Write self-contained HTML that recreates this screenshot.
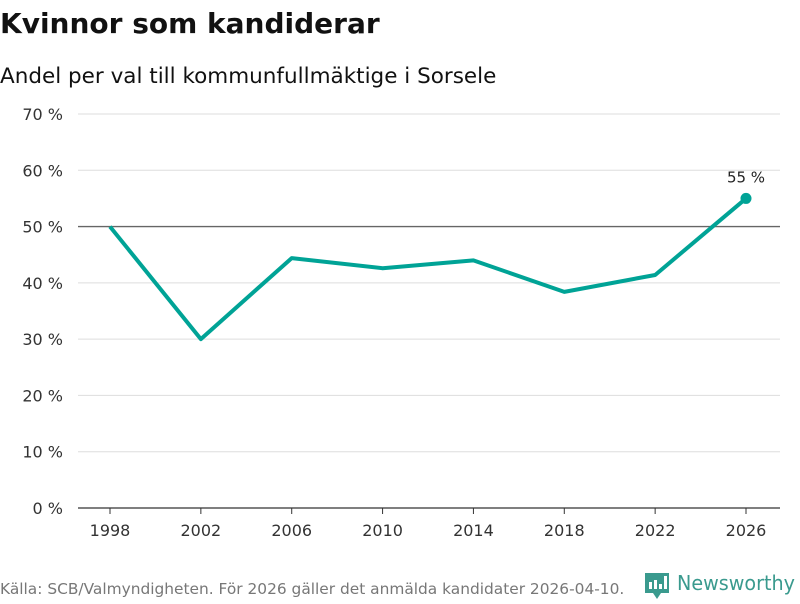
<!DOCTYPE html>
<html><head><meta charset="utf-8"><style>
body{margin:0;width:800px;height:600px;background:#fff;font-family:"DejaVu Sans","Liberation Sans",sans-serif;overflow:hidden}
</style></head><body>
<svg width="800" height="600">
<text x="0" y="33" font-size="28" font-weight="bold" fill="#111">Kvinnor som kandiderar</text>
<text x="0" y="83" font-size="21.5" fill="#111">Andel per val till kommunfullmäktige i Sorsele</text>
<g id="grid"></g><g id="xax"></g>
<polyline id="line" fill="none" stroke="#00a396" stroke-width="4" stroke-linejoin="round"/>
<g id="pts"></g>
<text x="0" y="594" font-size="15.4" fill="#777">Källa: SCB/Valmyndigheten. För 2026 gäller det anmälda kandidater 2026-04-10.</text>
<g>
<path d="M645 573h24v20h-8l-4 6-4-6h-8z" fill="#3a9a8e"/>
<rect x="649" y="582" width="3" height="7" fill="#fff"/><rect x="654" y="580" width="3" height="9" fill="#fff"/><rect x="659" y="584" width="3" height="5" fill="#fff"/><rect x="664" y="576" width="3" height="13" fill="#fff"/>
<text x="677" y="590" font-size="20" fill="#3a9a8e" textLength="118" lengthAdjust="spacingAndGlyphs">Newsworthy</text></g>
</svg>
<script>
const years=[1998,2002,2006,2010,2014,2018,2022,2026];
const values=[50,30,44.4,42.6,44.0,38.4,41.4,55];
const yTicks=[0,10,20,30,40,50,60,70];
const NS="http://www.w3.org/2000/svg";
const xs=y=>110+(y-1998)*(636/28);
const ys=v=>508-v*(394/70);
function mk(t,a,p){const e=document.createElementNS(NS,t);for(const k in a)e.setAttribute(k,a[k]);p.appendChild(e);return e;}
const g=document.getElementById('grid');
yTicks.forEach(v=>{
 const l=mk('line',{x1:78,x2:780,y1:ys(v),y2:ys(v),stroke:v===50?'#666':(v===0?'#333':'#ddd'),'stroke-width':v===50||v===0?1.3:1},g);
 
 
 const t=mk('text',{x:63,y:ys(v)+6,'font-size':16,fill:'#333','text-anchor':'end'},g);t.textContent=v+' %';
 
 
});
const xa=document.getElementById('xax');
years.forEach(y=>{
 const l=mk('line',{x1:xs(y),x2:xs(y),y1:508,y2:514,stroke:'#333'},xa);
 
 
 const t=mk('text',{x:xs(y),y:536,'font-size':16,fill:'#333','text-anchor':'middle'},xa);t.textContent=y;
 
 
});
document.getElementById('line').setAttribute('points',years.map((y,i)=>xs(y)+','+ys(values[i])).join(' '));
const p=document.getElementById('pts');const n=years.length-1;
const c=mk('circle',{cx:xs(years[n]),cy:ys(values[n]),r:5.5,fill:'#00a396'},p);


const lt=mk('text',{x:xs(years[n]),y:ys(values[n])-16,'font-size':15,fill:'#222','text-anchor':'middle'},p);lt.textContent=Math.round(values[n])+' %';


</script>
</body></html>
